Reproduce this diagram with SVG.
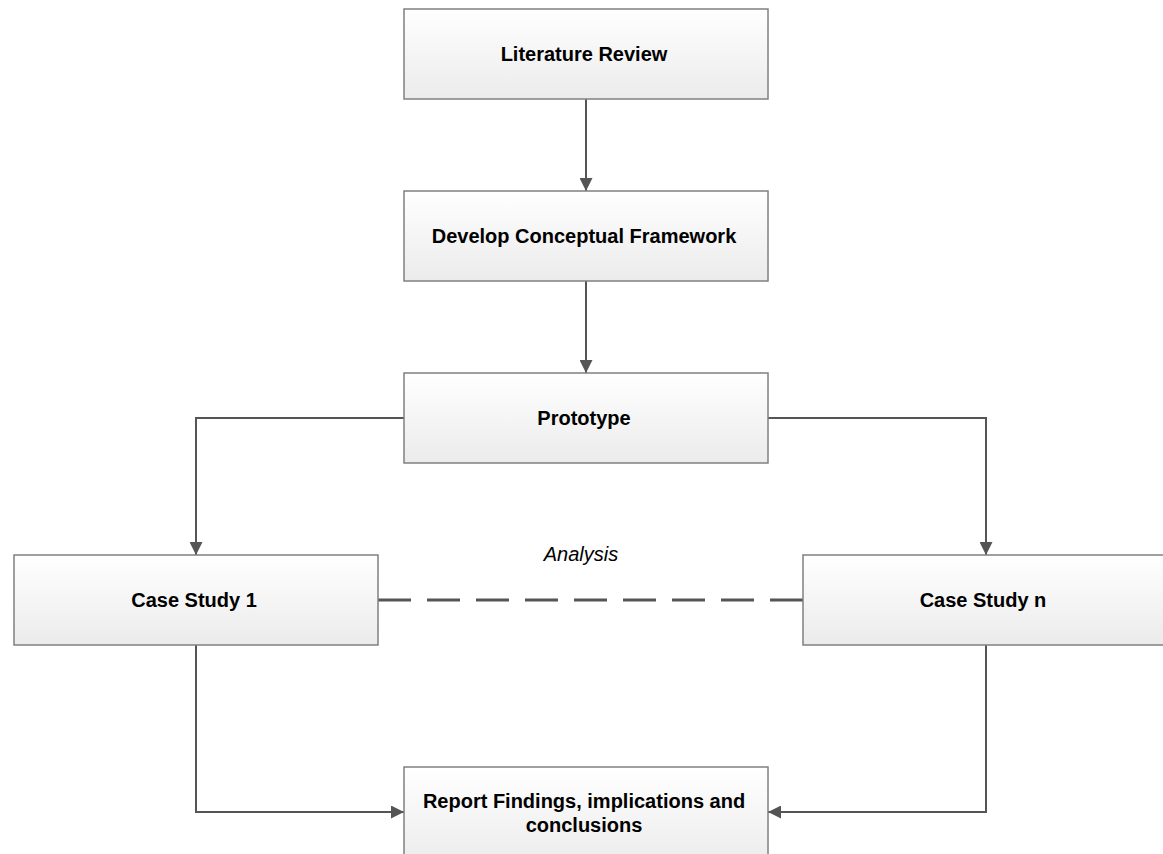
<svg xmlns="http://www.w3.org/2000/svg" width="1163" height="854" viewBox="0 0 1163 854">
<defs>
<linearGradient id="g" x1="0" y1="0" x2="0" y2="1">
<stop offset="0" stop-color="#ffffff"/>
<stop offset="1" stop-color="#ebebeb"/>
</linearGradient>
<marker id="ah" markerWidth="13" markerHeight="13" viewBox="0 0 13 13" refX="13" refY="6.5" orient="auto" markerUnits="userSpaceOnUse">
<path d="M0,0 L13,6.5 L0,13 Z" fill="#555555"/>
</marker>
<style>
.box{fill:url(#g);stroke:#808080;stroke-width:1.5}
.lbl{font-family:"Liberation Sans",Arial,sans-serif;font-size:20px;font-weight:bold;fill:#000;text-anchor:middle}
.it{font-family:"Liberation Sans",Arial,sans-serif;font-size:20px;font-style:italic;fill:#000;text-anchor:middle}
.c{fill:none;stroke:#555555;stroke-width:2}
.d{fill:none;stroke:#555555;stroke-width:3;stroke-dasharray:33 16}
</style>
</defs>
<rect width="1163" height="854" fill="#ffffff"/>
<g id="connectors">
<path class="c" d="M586,99 V191" marker-end="url(#ah)"/>
<path class="c" d="M586,281 V373" marker-end="url(#ah)"/>
<path class="c" d="M404,418 H196 V555" marker-end="url(#ah)"/>
<path class="c" d="M768,418 H986 V555" marker-end="url(#ah)"/>
<path class="c" d="M196,645 V812 H404" marker-end="url(#ah)"/>
<path class="c" d="M986,645 V812 H768" marker-end="url(#ah)"/>
<path class="d" d="M378,600 H803"/>
<text class="it" x="581" y="561">Analysis</text>
</g>
<g id="literature-review">
<rect class="box" x="404" y="9" width="364" height="90"/>
<text class="lbl" x="584" y="61">Literature Review</text>
</g>
<g id="develop-conceptual-framework">
<rect class="box" x="404" y="191" width="364" height="90"/>
<text class="lbl" x="584" y="243">Develop Conceptual Framework</text>
</g>
<g id="prototype">
<rect class="box" x="404" y="373" width="364" height="90"/>
<text class="lbl" x="584" y="425">Prototype</text>
</g>
<g id="case-study-1">
<rect class="box" x="14" y="555" width="364" height="90"/>
<text class="lbl" x="194" y="607">Case Study 1</text>
</g>
<g id="case-study-n">
<rect class="box" x="803" y="555" width="370" height="90"/>
<text class="lbl" x="983" y="607">Case Study n</text>
</g>
<g id="report-findings">
<rect class="box" x="404" y="767" width="364" height="100"/>
<text class="lbl" x="584" y="808">Report Findings, implications and</text>
<text class="lbl" x="584" y="832">conclusions</text>
</g>
</svg>
